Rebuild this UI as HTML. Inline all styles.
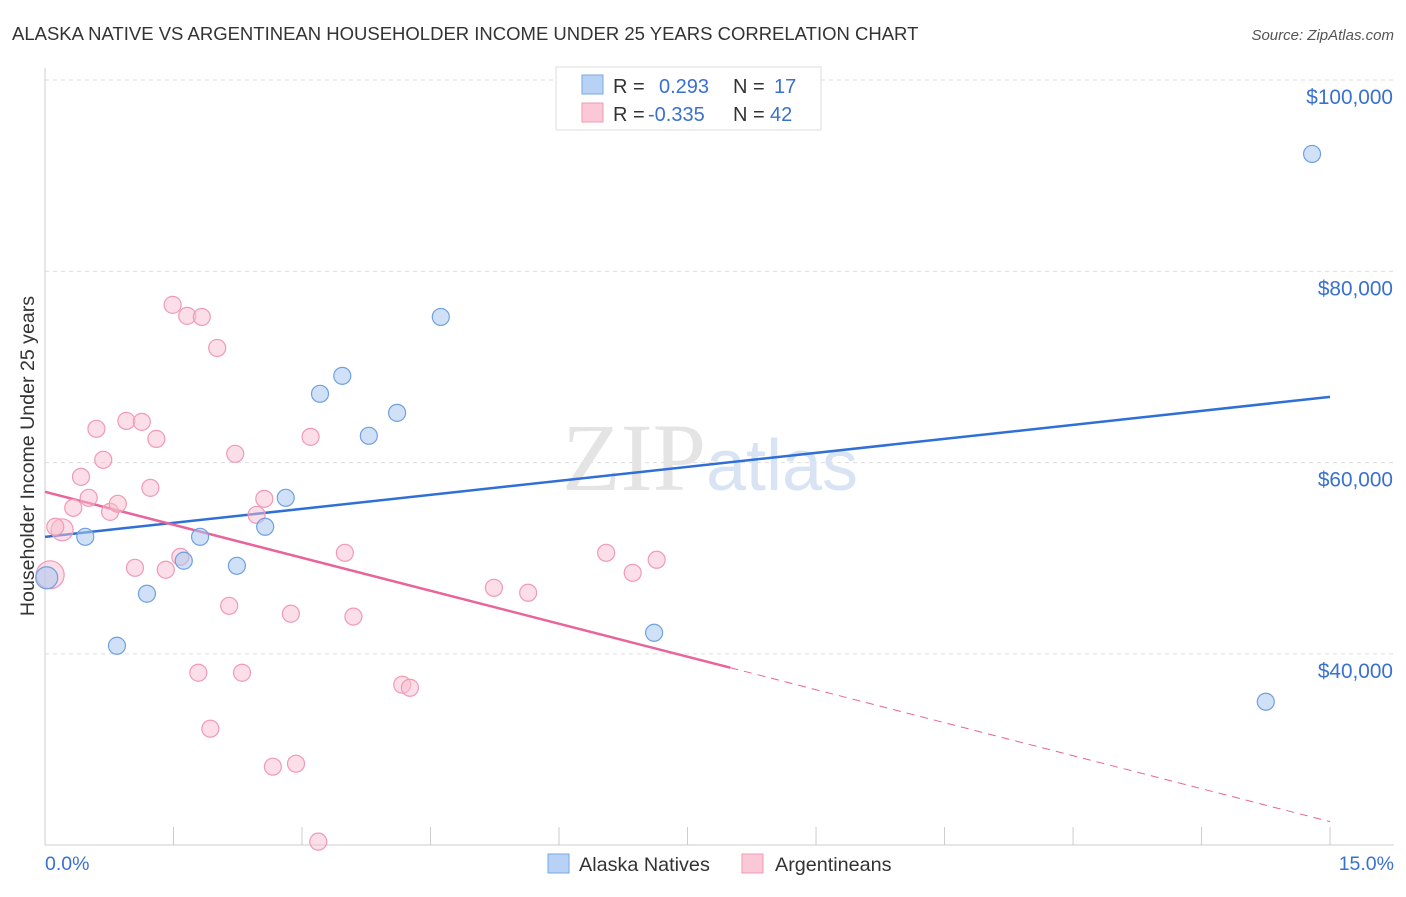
<!DOCTYPE html>
<html><head><meta charset="utf-8"><style>
body{margin:0;background:#fff;font-family:"Liberation Sans",sans-serif;}
</style></head><body>
<svg width="1406" height="892" xmlns="http://www.w3.org/2000/svg" style="font-family:'Liberation Sans',sans-serif">
<text x="12" y="40" font-size="18.5" fill="#333">ALASKA NATIVE VS ARGENTINEAN HOUSEHOLDER INCOME UNDER 25 YEARS CORRELATION CHART</text>
<text x="1394" y="40" font-size="15" fill="#555" text-anchor="end" font-style="italic">Source: ZipAtlas.com</text>
<g id="grid"></g>
<g id="axes"></g>
<text x="710" y="490" font-size="96" fill="#e4e4e4" text-anchor="middle" font-family="Liberation Serif">ZIP<tspan fill="#d8e4f4" font-family="Liberation Sans" font-size="72">atlas</tspan></text>
<g id="lines"></g>
<g id="pts"></g>
<text transform="translate(34,456) rotate(-90)" font-size="19.6" fill="#333" text-anchor="middle">Householder Income Under 25 years</text>
<text x="45" y="870" font-size="19.5" fill="#3a70d0">0.0%</text>
<text x="1394" y="870" font-size="19.5" fill="#3a70d0" text-anchor="end">15.0%</text>
<g>
<rect x="556" y="67" width="265" height="63" fill="#fff" stroke="#ddd"/>
<rect x="582" y="75" width="21" height="19" fill="#b8d2f6" stroke="#7aa6e6"/>
<rect x="582" y="103" width="21" height="19" fill="#fac8d6" stroke="#f09ab4"/>
<text x="613" y="93" font-size="20" fill="#333">R = <tspan x="659" fill="#3a70d0">0.293</tspan><tspan x="733" fill="#333">N = </tspan><tspan x="774" fill="#3a70d0">17</tspan></text>
<text x="613" y="121" font-size="20" fill="#333">R = <tspan x="648" fill="#3a70d0">-0.335</tspan><tspan x="733" fill="#333">N = </tspan><tspan x="770" fill="#3a70d0">42</tspan></text>
</g>
<g>
<rect x="548" y="854" width="21" height="19" fill="#b8d2f6" stroke="#7aa6e6"/>
<text x="579" y="871" font-size="19.8" fill="#333">Alaska Natives</text>
<rect x="742" y="854" width="21" height="19" fill="#fac8d6" stroke="#f09ab4"/>
<text x="775" y="871" font-size="19.8" fill="#333">Argentineans</text>
</g>
</svg>
<script>
const yTicks=[100000,80000,60000,40000];
const yTickLabels=["$100,000","$80,000","$60,000","$40,000"];
const blueX=[0.02,0.47,0.84,1.19,1.62,1.81,2.24,2.57,2.81,3.21,3.47,3.78,4.11,4.62,7.11,14.25,14.79];
const blueY=[47960,52240,40850,46290,49740,52240,49210,53290,56320,67190,69070,62800,65200,75230,42210,35000,92270];
const pinkX=[0.06,0.2,0.12,0.33,0.42,0.51,0.6,0.68,0.76,0.85,0.95,1.05,1.13,1.23,1.3,1.41,1.49,1.58,1.66,1.83,1.93,1.79,2.01,2.15,2.22,2.3,2.47,2.56,2.66,2.87,2.93,3.1,3.19,3.5,3.6,4.17,4.26,5.24,5.64,6.55,6.86,7.14];
const pinkY=[48270,52975,53290,55270,58510,56320,63530,60290,54850,55690,64360,49000,64260,57360,62480,48800,76490,50150,75340,75230,32180,38030,71990,45030,60920,38030,54540,56210,28210,44200,28520,62690,20370,50570,43900,36780,36460,46910,46390,50570,48480,49840];
const blueTrend=[52240,66870];
const pinkTrend=[56950,22460];
const pinkSolidEnd=8;
const NS="http://www.w3.org/2000/svg";
const X=v=>45+v*85.67, Y=v=>80+(100000-v)*191.3/20000;
function mk(t,a,p){const e=document.createElementNS(NS,t);for(const k in a)e.setAttribute(k,a[k]);p.appendChild(e);return e;}
const grid=document.getElementById('grid'),axes=document.getElementById('axes'),lines=document.getElementById('lines'),pts=document.getElementById('pts');
yTicks.forEach((v,i)=>{
 const l=mk('line',{x1:45,x2:1394,y1:Y(v),y2:Y(v),stroke:'#ddd','stroke-dasharray':'4,4'},grid);
 
 
 const t=mk('text',{x:1393,y:Y(v)+24,'font-size':20.8,fill:'#3a70d0','text-anchor':'end'},grid);
 t.textContent=yTickLabels[i];
 
 
});
mk('line',{x1:45,x2:45,y1:68,y2:845,stroke:'#ccc'},axes);
mk('line',{x1:45,x2:1394,y1:845,y2:845,stroke:'#ccc'},axes);
for(let i=0;i<=10;i++){const t=mk('line',{x1:X(i*1.5),x2:X(i*1.5),y1:827,y2:845,stroke:'#ccc'},axes);
 
 }
const bl=mk('line',{x1:X(0),y1:Y(blueTrend[0]),x2:X(15),y2:Y(blueTrend[1]),stroke:'#2f6fd6','stroke-width':2.5},lines);


const pv=x=>pinkTrend[0]+(pinkTrend[1]-pinkTrend[0])*x/15;
const pl=mk('line',{x1:X(0),y1:Y(pinkTrend[0]),x2:X(pinkSolidEnd),y2:Y(pv(pinkSolidEnd)),stroke:'#e8649a','stroke-width':2.5},lines);


const pd=mk('line',{x1:X(pinkSolidEnd),y1:Y(pv(pinkSolidEnd)),x2:X(15),y2:Y(pinkTrend[1]),stroke:'#e8649a','stroke-width':1,'stroke-dasharray':'8,6'},lines);


pinkX.forEach((x,i)=>{const c=mk('circle',{cx:X(x),cy:Y(pinkY[i]),r:i<2?(i==0?14:11):8.5,fill:'rgba(248,190,208,0.5)',stroke:'#f09ab4','stroke-width':1.2},pts);
 
 });
blueX.forEach((x,i)=>{const c=mk('circle',{cx:X(x),cy:Y(blueY[i]),r:i==0?11:8.5,fill:'rgba(170,200,240,0.55)',stroke:'#6fa0e0','stroke-width':1.2},pts);
 
 });
</script>
</body></html>
